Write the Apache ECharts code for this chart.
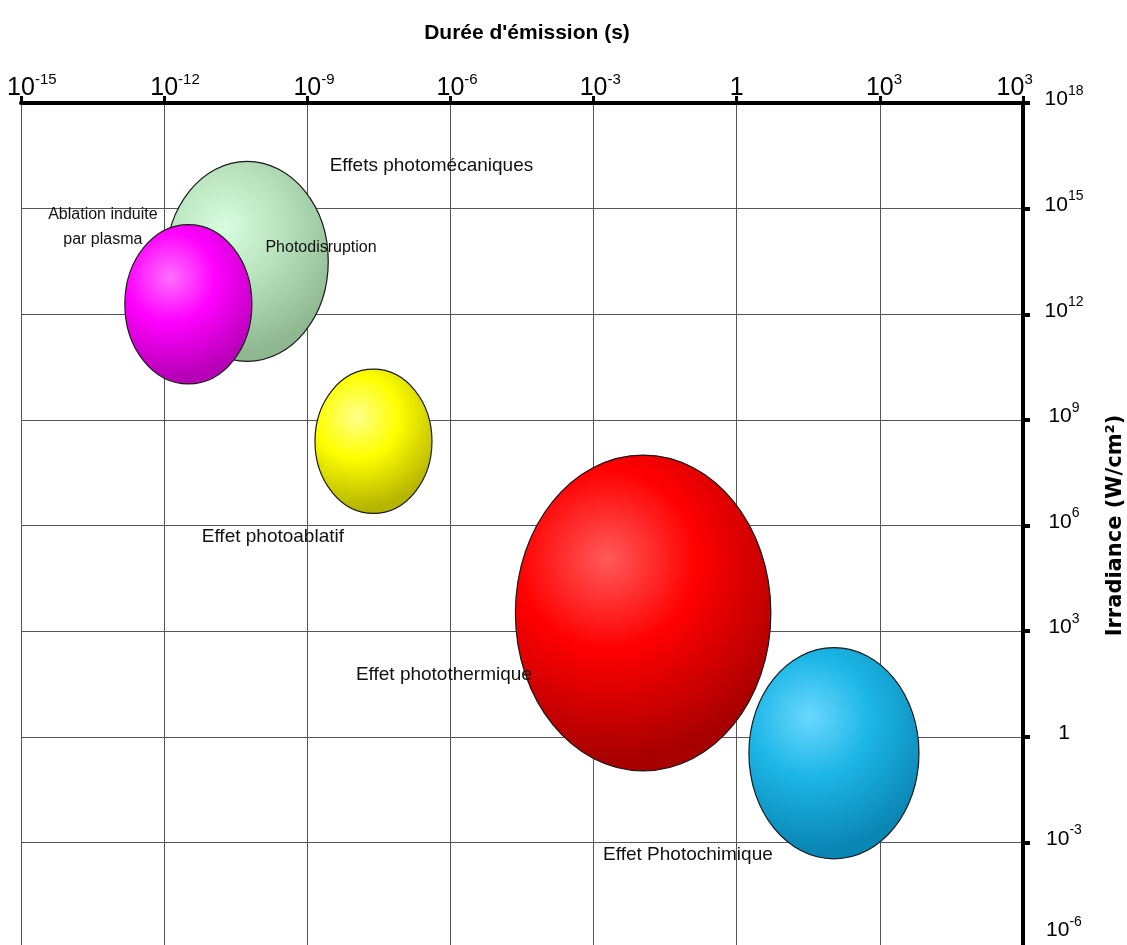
<!DOCTYPE html>
<html><head><meta charset="utf-8">
<script src="https://cdn.jsdelivr.net/npm/echarts@6/dist/echarts.min.js"></script>
<style>html,body{margin:0;padding:0;background:#fff}#c{width:1127px;height:945px}</style>
</head><body><div id="c"></div>
<script>
// ---- data ----
const xTickLabels = ['10^-15','10^-12','10^-9','10^-6','10^-3','1','10^3','10^3'];
const yTickLabels = ['10^-6','10^-3','1','10^3','10^6','10^9','10^12','10^15','10^18'];
const effectNames   = ['Photodisruption','Ablation induite par plasma','Effet photoablatif','Effet photothermique','Effet Photochimique'];
const durationMin   = [1.1e-12, 1.5e-13, 1.45e-9, 2.3e-5, 1.8];      // s
const durationMax   = [2.75e-9, 6.9e-11, 4.1e-7, 5.2, 6600];         // s
const irradianceMin = [4.6e10, 1.05e10, 2.2e6, 0.107, 3.4e-4];       // W/cm2
const irradianceMax = [2.2e16, 3.5e14, 2.75e10, 1.0e8, 340];         // W/cm2
const noteTexts = ['Effets photomécaniques','Ablation induite\npar plasma','Photodisruption','Effet photoablatif','Effet photothermique','Effet Photochimique'];
const noteX = [4.0e-7, 5.2e-14, 1.94e-9, 1.9e-10, 7.3e-7, 0.095];
const noteY = [1.6e16, 2.9e14, 7.6e13, 4.7e5, 57, 4.4e-4];

// ---- styles ----
const SANS = "'Liberation Sans',Arial,sans-serif";
const bubbleStyles = [
  ['#d8fde0','#b8e3bc','#8fb892'],
  ['#ff70ff','#ff00ff','#b800b8'],
  ['#ffff8c','#ffff00','#b5b500'],
  ['#ff5a5a','#ff0000','#a80000'],
  ['#6ad8ff','#1cb6e6','#0a86b4']
];
const noteFont = [19, 16, 16, 19, 19, 19];

function tickIndex(v, min){ return Math.round((Math.round(Math.log10(v)) - min) / 3); }

const chart = echarts.init(document.getElementById('c'), null, {renderer:'canvas'});
chart.setOption({
  animation:false,
  backgroundColor:'#fff',
  grid:{left:21, right:104, top:103, bottom:-3, containLabel:false, outerBoundsMode:'none'},
  xAxis:{
    type:'log', logBase:10, min:1e-15, max:1e6, interval:3, position:'top',
    name:"Durée d'émission (s)", nameLocation:'middle', nameGap:59, nameMoveOverlap:false,
    nameTextStyle:{fontFamily:SANS, fontSize:21, fontWeight:'bold', color:'#000', padding:[0,0,0,10]},
    axisLine:{show:true, onZero:false, lineStyle:{color:'#000', width:4}},
    axisTick:{show:true, length:7, lineStyle:{color:'#000', width:3}},
    minorTick:{show:false},
    splitLine:{show:true, lineStyle:{color:'#555', width:1}},
    axisLabel:{
      margin:2, color:'#000',
      formatter:function(v){
        const i = tickIndex(v, -15);
        const s = xTickLabels[i] || '';
        const parts = s.split('^');
        if (parts.length < 2) return '{b|' + parts[0] + '}';
        if (i === xTickLabels.length - 1) return '{b|' + parts[0] + '}{s|' + parts[1] + '}{h|' + parts[1] + parts[1] + '}';
        return '{h|' + parts[1] + '}{b|' + parts[0] + '}{s|' + parts[1] + '}';
      },
      rich:{
        b:{fontFamily:SANS, fontSize:25, lineHeight:29, color:'#000', verticalAlign:'bottom'},
        s:{fontFamily:SANS, fontSize:15, lineHeight:15, color:'#000', verticalAlign:'top'},
        h:{fontFamily:SANS, fontSize:15, lineHeight:15, color:'rgba(0,0,0,0)', verticalAlign:'top'}
      }
    }
  },
  yAxis:{
    type:'log', logBase:10, min:1e-6, max:1e18, interval:3, position:'right',
    name:'Irradiance (W/cm²)', nameLocation:'middle', nameGap:82, nameRotate:90, nameMoveOverlap:false,
    nameTextStyle:{fontFamily:"'DejaVu Sans',sans-serif", fontSize:21, fontWeight:'bold', color:'#000'},
    axisLine:{show:true, onZero:false, lineStyle:{color:'#000', width:4}},
    axisTick:{show:true, length:7, lineStyle:{color:'#000', width:4}},
    minorTick:{show:false},
    splitLine:{show:true, lineStyle:{color:'#555', width:1}},
    axisLabel:{
      margin:41, align:'center', color:'#000',
      formatter:function(v){
        const i = tickIndex(v, -6);
        const s = yTickLabels[i] || '';
        const parts = s.split('^');
        const main = parts.length < 2 ? '{b|' + parts[0] + '}' : '{b|' + parts[0] + '}{s|' + parts[1] + '}';
        return main + (i === 0 ? '\n{el| }' : '\n{e| }');
      },
      rich:{
        b:{fontFamily:SANS, fontSize:21, lineHeight:26, color:'#000', verticalAlign:'bottom'},
        s:{fontFamily:SANS, fontSize:14, lineHeight:14, color:'#000', verticalAlign:'top'},
        e:{fontSize:4, lineHeight:12},
        el:{fontSize:4, lineHeight:40}
      }
    }
  },
  series:[
    {
      type:'custom', name:'effets', coordinateSystem:'cartesian2d', clip:false,
      encode:{x:[0,1], y:[2,3]},
      data: effectNames.map((n,i)=>({name:n, value:[durationMin[i], durationMax[i], irradianceMin[i], irradianceMax[i]]})),
      renderItem:function(params, api){
        const p1 = api.coord([api.value(0), api.value(2)]);
        const p2 = api.coord([api.value(1), api.value(3)]);
        const c = bubbleStyles[params.dataIndex];
        return {
          type:'ellipse',
          shape:{cx:(p1[0]+p2[0])/2, cy:(p1[1]+p2[1])/2, rx:Math.abs(p2[0]-p1[0])/2, ry:Math.abs(p2[1]-p1[1])/2},
          style:{
            fill:new echarts.graphic.RadialGradient(0.36, 0.33, 0.78, [
              {offset:0, color:c[0]}, {offset:0.45, color:c[1]}, {offset:1, color:c[2]}
            ]),
            stroke:'#1a1a1a', lineWidth:1.2
          }
        };
      }
    },
    {
      type:'custom', name:'notes', coordinateSystem:'cartesian2d', clip:false,
      encode:{x:0, y:1},
      data: noteTexts.map((t,i)=>[noteX[i], noteY[i]]),
      renderItem:function(params, api){
        const p = api.coord([api.value(0), api.value(1)]);
        const i = params.dataIndex;
        return {
          type:'text', x:p[0], y:p[1], z2:10,
          style:{text:noteTexts[i], fill:'#111', fontFamily:SANS, fontSize:noteFont[i],
                 lineHeight:noteFont[i]+9, align:'center', verticalAlign:'middle'}
        };
      }
    }
  ]
});
</script></body></html>
